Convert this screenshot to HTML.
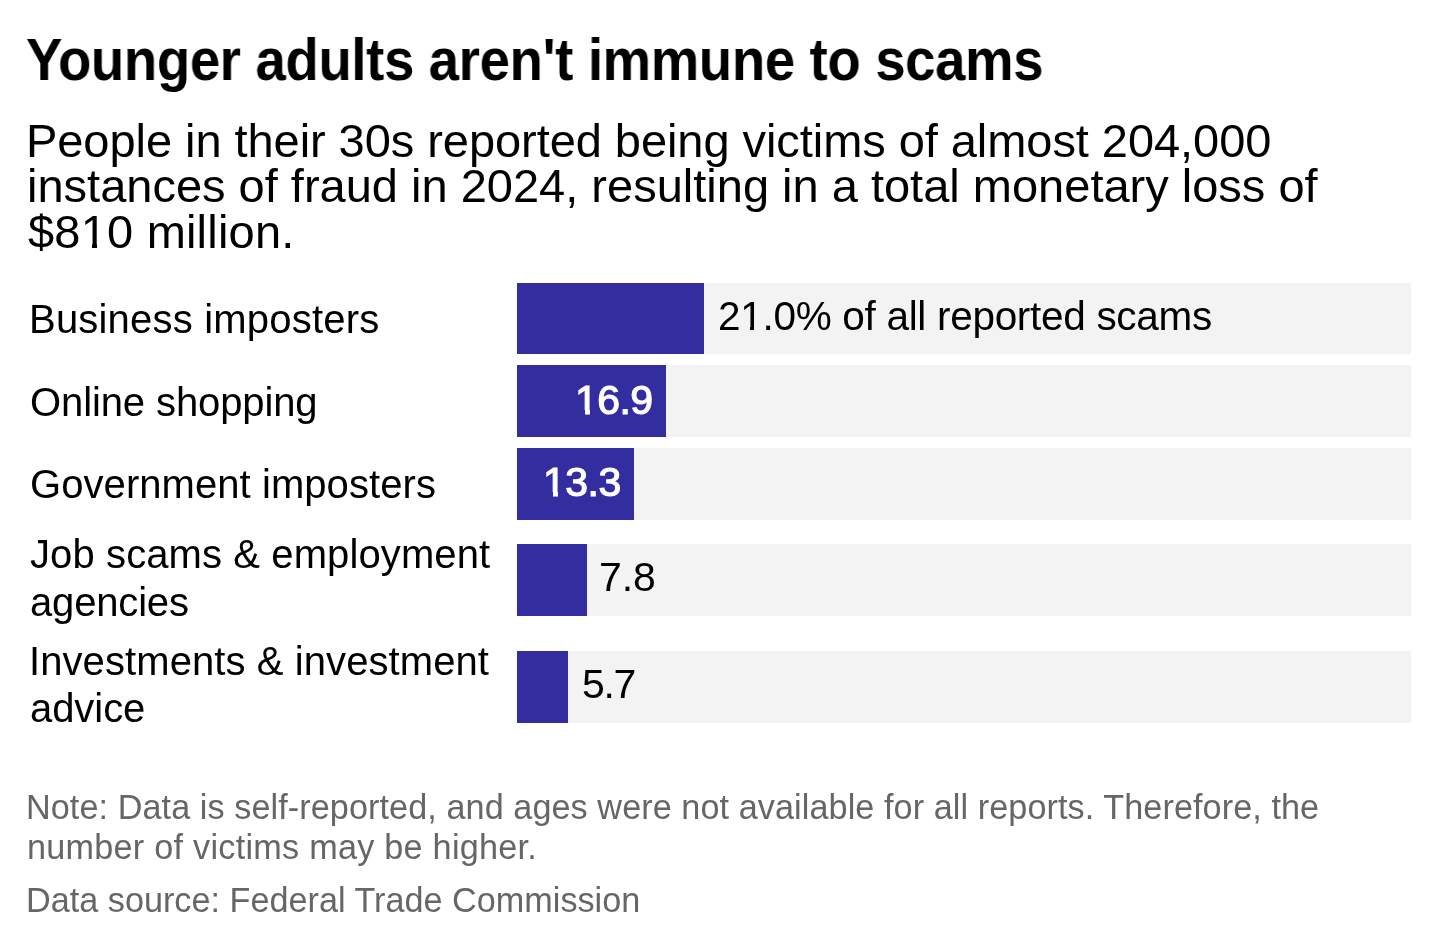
<!DOCTYPE html>
<html><head><meta charset="utf-8"><title>Younger adults aren't immune to scams</title>
<style>
html,body{margin:0;padding:0;background:#fff;}
body{width:1440px;height:947px;position:relative;overflow:hidden;font-family:"Liberation Sans",sans-serif;}
.t{position:absolute;white-space:nowrap;margin:0;will-change:transform;}
.tr{position:absolute;background:#f3f3f3;}
.b{position:absolute;background:#332da0;}
.one{position:relative}.one::before,.one::after{content:"";position:absolute;top:0.815em;height:0.11em;background:var(--bg)}.one::before{left:0.05em;width:calc(0.2em - var(--sw,0px)/2)}.one::after{left:calc(0.34em + var(--sw,0px)/2);width:0.2em}
</style></head><body>

<div class="tr" style="left:517px;top:283px;width:893.5px;height:71.3px"></div>
<div class="b" style="left:517px;top:283px;width:186.8px;height:71.3px"></div>
<div class="tr" style="left:517px;top:365.4px;width:893.5px;height:71.6px"></div>
<div class="b" style="left:517px;top:365.4px;width:149.2px;height:71.6px"></div>
<div class="tr" style="left:517px;top:448.1px;width:893.5px;height:71.8px"></div>
<div class="b" style="left:517px;top:448.1px;width:117.3px;height:71.8px"></div>
<div class="tr" style="left:517px;top:544.3px;width:893.5px;height:71.6px"></div>
<div class="b" style="left:517px;top:544.3px;width:69.6px;height:71.6px"></div>
<div class="tr" style="left:517px;top:651.4px;width:893.5px;height:71.5px"></div>
<div class="b" style="left:517px;top:651.4px;width:50.9px;height:71.5px"></div>
<div class="t" style="left:26.07px;top:30px;font-size:58.6px;line-height:60.19px;font-weight:700;color:#000;letter-spacing:-0.352px;transform:scaleX(0.93);transform-origin:0 0">Younger adults aren't immune to scams</div>
<div class="t" style="left:26.4px;top:117px;font-size:47px;line-height:48.23px;font-weight:400;color:#000;letter-spacing:-0.058px">People in their 30s reported being victims of almost 204,000</div>
<div class="t" style="left:27.0px;top:162px;font-size:47px;line-height:48.63px;font-weight:400;color:#000;letter-spacing:0.0px">instances of fraud in 2024, resulting in a total monetary loss of</div>
<div class="t" style="left:28.0px;top:208px;font-size:47px;line-height:47.43px;font-weight:400;color:#000;letter-spacing:0.2px;--bg:#fff">$8<span class=one>1</span>0 million.</div>
<div class="t" style="left:29.4px;top:299px;font-size:40px;line-height:41.88px;font-weight:400;color:#000;letter-spacing:0.2px">Business imposters</div>
<div class="t" style="left:29.5px;top:382px;font-size:40px;line-height:40.68px;font-weight:400;color:#000;letter-spacing:-0.107px">Online shopping</div>
<div class="t" style="left:29.5px;top:464px;font-size:40px;line-height:41.68px;font-weight:400;color:#000;letter-spacing:0.068px">Government imposters</div>
<div class="t" style="left:29.6px;top:534px;font-size:40px;line-height:40.68px;font-weight:400;color:#000;letter-spacing:0.105px">Job scams &amp; employment</div>
<div class="t" style="left:29.6px;top:582px;font-size:40px;line-height:40.68px;font-weight:400;color:#000;letter-spacing:-0.171px">agencies</div>
<div class="t" style="left:28.7px;top:641px;font-size:40px;line-height:40.88px;font-weight:400;color:#000;letter-spacing:0.087px">Investments &amp; investment</div>
<div class="t" style="left:29.6px;top:688px;font-size:40px;line-height:41.88px;font-weight:400;color:#000;letter-spacing:-0.06px">advice</div>
<div class="t" style="left:717.8px;top:296px;font-size:40.5px;line-height:41.93px;font-weight:400;color:#000;letter-spacing:-0.3px;--bg:#f3f3f3">2<span class=one>1</span>.0% of all reported scams</div>
<div class="t" style="left:575.0px;top:379px;font-size:41px;line-height:41.99px;font-weight:400;color:#fff;letter-spacing:-0.567px;-webkit-text-stroke:1.2px #fff;--bg:#332da0;--sw:1.2px"><span class=one>1</span>6.9</div>
<div class="t" style="left:542.7px;top:462px;font-size:41px;line-height:41.59px;font-weight:400;color:#fff;letter-spacing:-0.5px;-webkit-text-stroke:1.2px #fff;--bg:#332da0;--sw:1.2px"><span class=one>1</span>3.3</div>
<div class="t" style="left:598.7px;top:557px;font-size:41px;line-height:41.79px;font-weight:400;color:#000;letter-spacing:-0.1px">7.8</div>
<div class="t" style="left:582.3px;top:664px;font-size:41px;line-height:41.59px;font-weight:400;color:#000;letter-spacing:-1.4px">5.7</div>
<div class="t" style="left:26.2px;top:790px;font-size:34.2px;line-height:34.5px;font-weight:400;color:#666;letter-spacing:0.083px">Note: Data is self-reported, and ages were not available for all reports. Therefore, the</div>
<div class="t" style="left:27.2px;top:830px;font-size:34.2px;line-height:34.6px;font-weight:400;color:#666;letter-spacing:0.265px">number of victims may be higher.</div>
<div class="t" style="left:26.2px;top:883px;font-size:34.2px;line-height:34.9px;font-weight:400;color:#666;letter-spacing:0.015px">Data source: Federal Trade Commission</div>
</body></html>
